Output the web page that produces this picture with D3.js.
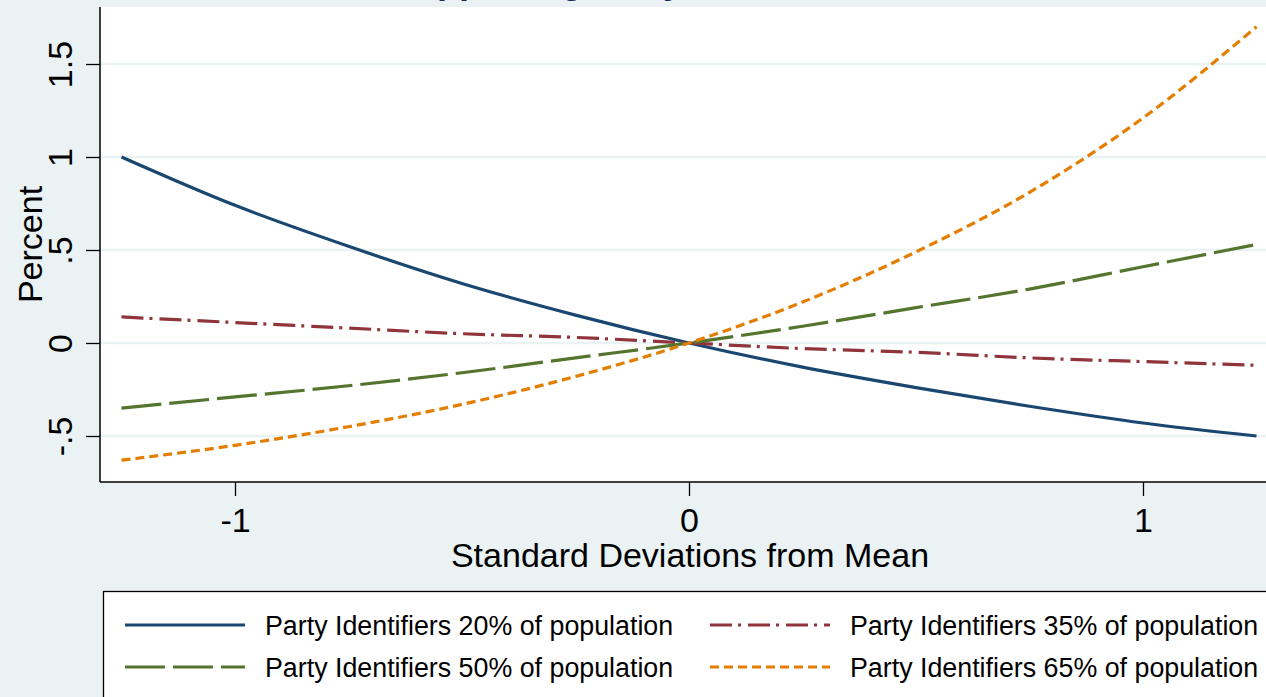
<!DOCTYPE html>
<html><head><meta charset="utf-8">
<script src="https://cdn.jsdelivr.net/npm/d3@7"></script>
<style>body{margin:0;background:#eaf2f3;}svg{display:block;font-family:"Liberation Sans",Arial,sans-serif;}</style>
</head><body>
<script>
// Data
const xValues = [-1.25, -1, -0.75, -0.5, -0.25, 0, 0.25, 0.5, 0.75, 1, 1.25];
const pid20 = [1.00, 0.74, 0.52, 0.32, 0.15, 0.00, -0.13, -0.24, -0.34, -0.43, -0.50];
const pid35 = [0.14, 0.11, 0.08, 0.05, 0.03, 0.00, -0.03, -0.05, -0.08, -0.10, -0.12];
const pid50 = [-0.35, -0.29, -0.23, -0.16, -0.08, 0.00, 0.09, 0.19, 0.29, 0.41, 0.53];
const pid65 = [-0.63, -0.55, -0.45, -0.33, -0.18, 0.00, 0.22, 0.49, 0.81, 1.21, 1.70];
const seriesNames = ["Party Identifiers 20% of population","Party Identifiers 35% of population",
                     "Party Identifiers 50% of population","Party Identifiers 65% of population"];
const xTicks = [-1, 0, 1];
const xTickLabels = ["-1", "0", "1"];
const yTicks = [-0.5, 0, 0.5, 1, 1.5];
const yTickLabels = ["-.5", "0", ".5", "1", "1.5"];
const xTitle = "Standard Deviations from Mean";
const yTitle = "Percent";
const titleText = "Percent Supporting Party";

const W = 1266, H = 697;
const svg = d3.select("body").append("svg").attr("width", W).attr("height", H);
svg.append("rect").attr("width", W).attr("height", H).attr("fill", "#eaf2f3");

const x = d3.scaleLinear().domain([-1, 1]).range([235, 1143]);
const y = d3.scaleLinear().domain([-0.5, 1.5]).range([436, 64]);
const plotL = 100, plotR = 1278, plotT = 7, plotB = 482;

// title (mostly outside the top edge, as in the reference)
svg.append("text").attr("x", 466).attr("y", -7).attr("text-anchor", "middle")
  .attr("font-size", 36).attr("font-weight", "bold").attr("fill", "#1a2a5c").text(titleText);

// plot region
svg.append("rect").attr("x", plotL).attr("y", plotT).attr("width", plotR - plotL).attr("height", plotB - plotT).attr("fill", "#fff");
svg.append("defs").append("clipPath").attr("id", "clip").append("rect")
  .attr("x", plotL).attr("y", plotT).attr("width", plotR - plotL).attr("height", plotB - plotT);

// grid
svg.append("g").selectAll("line").data(yTicks).join("line")
  .attr("x1", plotL).attr("x2", plotR).attr("y1", d => y(d)).attr("y2", d => y(d))
  .attr("stroke", "#eaf2f3").attr("stroke-width", 2.5);

// series
const series = [
  {name: seriesNames[0], vals: pid20, color: "#1a476f", dash: null},
  {name: seriesNames[1], vals: pid35, color: "#90353b", dash: "22,6,3,7"},
  {name: seriesNames[2], vals: pid50, color: "#55752f", dash: "40,8"},
  {name: seriesNames[3], vals: pid65, color: "#e37e00", dash: "9,5"}
];
const line = d3.line().x((d, i) => x(xValues[i])).y(d => y(d)).curve(d3.curveMonotoneX);
const lg = svg.append("g").attr("clip-path", "url(#clip)");
lg.selectAll("path").data(series).join("path")
  .attr("d", d => line(d.vals)).attr("fill", "none")
  .attr("stroke", d => d.color).attr("stroke-width", 3.2)
  .attr("stroke-dasharray", d => d.dash);

// axes
const yAxis = d3.axisLeft(y).tickValues(yTicks).tickFormat((d, i) => yTickLabels[i]).tickSize(14).tickPadding(6);
const ya = svg.append("g").attr("transform", `translate(${plotL},0)`).call(yAxis);
ya.select(".domain").attr("d", `M0,${plotT}V${plotB}`).attr("stroke", "#000").attr("stroke-width", 1.5);
ya.selectAll(".tick line").attr("stroke", "#000").attr("stroke-width", 1.3);
ya.selectAll(".tick text").attr("font-size", 34).attr("fill", "#000")
  .attr("text-anchor", "middle").attr("dy", null).attr("x", null)
  .attr("transform", "translate(-28,0) rotate(-90)");

const xAxis = d3.axisBottom(x).tickValues(xTicks).tickFormat((d, i) => xTickLabels[i]).tickSize(14).tickPadding(8);
const xa = svg.append("g").attr("transform", `translate(0,${plotB})`).call(xAxis);
xa.select(".domain").attr("d", `M${plotL},0H${plotR}`).attr("stroke", "#000").attr("stroke-width", 1.5);
xa.selectAll(".tick line").attr("stroke", "#000").attr("stroke-width", 1.3);
xa.selectAll(".tick text").attr("font-size", 34).attr("fill", "#000").attr("dy", null).attr("y", 50);
ya.attr("font-family", null); xa.attr("font-family", null);

svg.append("text").attr("x", 690).attr("y", 567).attr("text-anchor", "middle")
  .attr("font-size", 34).attr("fill", "#000").text(xTitle);
svg.append("text").attr("transform", `translate(42,${(plotT + plotB) / 2}) rotate(-90)`)
  .attr("text-anchor", "middle").attr("font-size", 34).attr("fill", "#000").text(yTitle);

// legend
svg.append("rect").attr("x", 103.5).attr("y", 591.5).attr("width", 1200).attr("height", 200)
  .attr("fill", "#fff").attr("stroke", "#000").attr("stroke-width", 1.3);
const legPos = [[125, 625], [710, 625], [125, 667], [710, 667]];
const leg = svg.append("g");
series.forEach((s, i) => {
  const [lx, ly] = legPos[i];
  leg.append("line").attr("x1", lx).attr("x2", lx + 120).attr("y1", ly).attr("y2", ly)
    .attr("stroke", s.color).attr("stroke-width", 3.2).attr("stroke-dasharray", s.dash);
  leg.append("text").attr("x", lx + 140).attr("y", ly + 10).attr("font-size", 26.8).attr("fill", "#000").text(s.name);
});
</script>
</body></html>
